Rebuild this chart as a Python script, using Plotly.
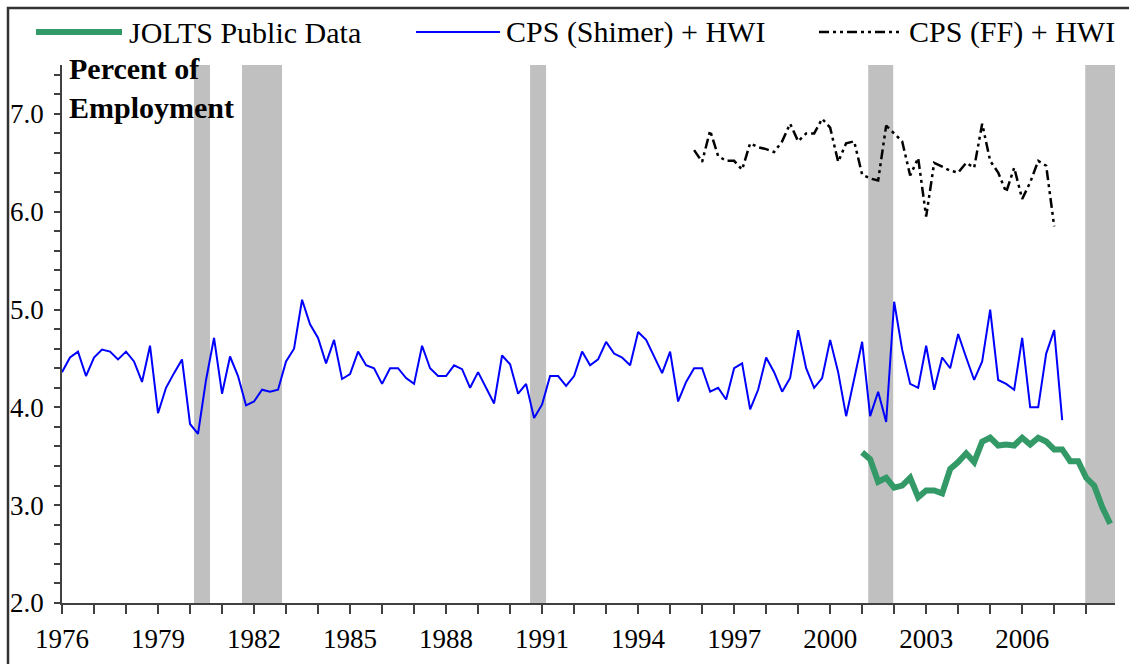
import plotly.graph_objects as go

# ---------------- data ----------------
shimer_start = 1976.0  # quarterly, 1976Q1 .. 2007Q2
shimer_values = [
    4.36, 4.51, 4.57, 4.32, 4.51, 4.59, 4.57, 4.49, 4.57, 4.47, 4.26, 4.63, 3.94, 4.20, 4.35, 4.49,
    3.83, 3.73, 4.28, 4.71, 4.14, 4.52, 4.32, 4.02, 4.06, 4.18, 4.16, 4.18, 4.47, 4.60, 5.10, 4.85,
    4.71, 4.45, 4.69, 4.29, 4.34, 4.57, 4.43, 4.40, 4.24,
    4.40, 4.40, 4.30, 4.24, 4.63, 4.40, 4.32, 4.32, 4.43, 4.39, 4.20, 4.36, 4.20, 4.04, 4.53, 4.44,
    4.14, 4.24, 3.89, 4.03, 4.32, 4.32, 4.22, 4.32, 4.57, 4.43, 4.49, 4.67, 4.55, 4.51, 4.43, 4.77,
    4.69, 4.52, 4.35, 4.57, 4.06, 4.26, 4.40,
    4.40, 4.16, 4.20, 4.08, 4.40, 4.45, 3.98, 4.18, 4.51, 4.36, 4.16, 4.30, 4.79, 4.40, 4.20, 4.30,
    4.69, 4.36, 3.91, 4.30, 4.67, 3.91, 4.16, 3.85, 5.08, 4.59, 4.24, 4.20, 4.63, 4.18, 4.51, 4.40,
    4.75, 4.51, 4.28, 4.47, 5.00, 4.28, 4.24, 4.18, 4.71, 4.00, 4.00, 4.55, 4.79, 3.87,
]

ff_start = 1995.75  # quarterly, 1995Q4 .. 2007Q1
ff_values = [
    6.63, 6.51, 6.83, 6.57, 6.52, 6.52, 6.43, 6.70, 6.66, 6.64, 6.61, 6.72, 6.90, 6.72, 6.80, 6.80,
    6.95, 6.86, 6.51, 6.70, 6.72, 6.38, 6.34, 6.32, 6.88, 6.80, 6.72, 6.37, 6.55, 5.95, 6.50, 6.46,
    6.42, 6.40, 6.50, 6.45, 6.90, 6.52, 6.40, 6.20, 6.45, 6.13, 6.30, 6.52, 6.47, 5.85,
]

jolts_start = 2001.0  # quarterly, 2001Q1 .. 2008Q4
jolts_values = [
    3.54, 3.47, 3.24, 3.28, 3.18, 3.20, 3.28, 3.08, 3.15, 3.15, 3.12, 3.37, 3.44, 3.53, 3.44, 3.65,
    3.69, 3.61, 3.62, 3.61, 3.69, 3.62, 3.69, 3.65, 3.57, 3.57, 3.45, 3.45, 3.28, 3.20, 2.98, 2.81,
]

recessions = [(1980.125, 1980.625), (1981.625, 1982.875), (1990.625, 1991.125),
              (2001.19, 2001.97), (2007.97, 2009.2)]

x_ticks = [1976, 1979, 1982, 1985, 1988, 1991, 1994, 1997, 2000, 2003, 2006]
y_ticks = [2.0, 3.0, 4.0, 5.0, 6.0, 7.0]


def quarters(start, n):
    return [start + 0.25 * k for k in range(n)]


# ---------------- figure ----------------
W, H = 1129, 664
ML, MR, MT, MB = 62, 14, 65, 61
PW, PH = W - ML - MR, H - MT - MB


def px(xp):
    return (xp - ML) / PW


def py(yp):
    return (H - MB - yp) / PH


SERIF = "Liberation Serif, Times New Roman, serif"
AXC = "#404040"
GREEN = "#339966"
BLUE = "#0000FF"
DASH = "10px,4px,3px,4px,3px,4px"

fig = go.Figure()

fig.add_trace(go.Scatter(x=quarters(shimer_start, len(shimer_values)), y=shimer_values,
                         mode="lines", line=dict(color=BLUE, width=2),
                         name="CPS (Shimer) + HWI", showlegend=False))
fig.add_trace(go.Scatter(x=quarters(ff_start, len(ff_values)), y=ff_values,
                         mode="lines", line=dict(color="black", width=2.5, dash=DASH),
                         name="CPS (FF) + HWI", showlegend=False))
fig.add_trace(go.Scatter(x=quarters(jolts_start, len(jolts_values)), y=jolts_values,
                         mode="lines", line=dict(color=GREEN, width=6),
                         name="JOLTS Public Data", showlegend=False))

shapes = []
for a, b in recessions:
    shapes.append(dict(type="rect", xref="x", yref="paper", x0=a, x1=b, y0=0, y1=1,
                       fillcolor="#C0C0C0", line=dict(width=0), layer="below"))

# outer frame (only left and top edges fall inside the picture)
shapes.append(dict(type="rect", xref="paper", yref="paper",
                   x0=px(8), x1=px(1180), y0=py(720), y1=py(8),
                   line=dict(color="#333333", width=2.5), fillcolor="rgba(0,0,0,0)",
                   layer="above"))

# manual legend
leg_y = py(32)
legend_items = [
    (36, 122, dict(color=GREEN, width=6), "JOLTS Public Data", 127),
    (416, 500, dict(color=BLUE, width=2), "CPS (Shimer) + HWI", 504),
    (819, 902, dict(color="black", width=2.5, dash=DASH), "CPS (FF) + HWI", 907),
]
annotations = []
for x0, x1, ln, label, tx in legend_items:
    shapes.append(dict(type="line", xref="paper", yref="paper",
                       x0=px(x0), x1=px(x1), y0=leg_y, y1=leg_y, line=ln))
    annotations.append(dict(xref="paper", yref="paper", x=px(tx), y=leg_y,
                            xanchor="left", yanchor="middle", showarrow=False,
                            text=label, font=dict(family=SERIF, size=30, color="black")))

annotations.append(dict(xref="paper", yref="paper", x=px(67), y=py(88),
                        xanchor="left", yanchor="middle", showarrow=False, align="left",
                        text="<b>Percent of<br>Employment</b>",
                        font=dict(family=SERIF, size=30, color="black")))

fig.update_layout(
    width=W, height=H,
    margin=dict(l=ML, r=MR, t=MT, b=MB, pad=0, autoexpand=False),
    paper_bgcolor="white", plot_bgcolor="white",
    showlegend=False,
    shapes=shapes, annotations=annotations,
    xaxis=dict(range=[1976, 2008.9], tickmode="array", tickvals=x_ticks,
               ticktext=[str(v) for v in x_ticks],
               ticks="outside", ticklen=9, tickwidth=1.5, tickcolor=AXC,
               minor=dict(dtick=1, tick0=1976, ticks="outside", ticklen=9,
                          tickwidth=1.5, tickcolor=AXC),
               showline=True, linecolor=AXC, linewidth=1.5, automargin=False,
               showgrid=False, zeroline=False, ticklabelstandoff=2,
               tickfont=dict(family=SERIF, size=27, color="black")),
    yaxis=dict(range=[2, 7.5], tickmode="array", tickvals=y_ticks,
               ticktext=["%.1f" % v for v in y_ticks],
               ticks="outside", ticklen=6, tickwidth=1.5, tickcolor=AXC,
               minor=dict(dtick=0.2, tick0=2, ticks="outside", ticklen=6,
                          tickwidth=1.5, tickcolor=AXC),
               showline=True, linecolor=AXC, linewidth=1.5, automargin=False,
               showgrid=False, zeroline=False, ticklabelstandoff=5,
               tickfont=dict(family=SERIF, size=27, color="black")),
)

fig.write_html("out.html", config={"displayModeBar": False},
               post_script="document.body.style.margin='0';")
